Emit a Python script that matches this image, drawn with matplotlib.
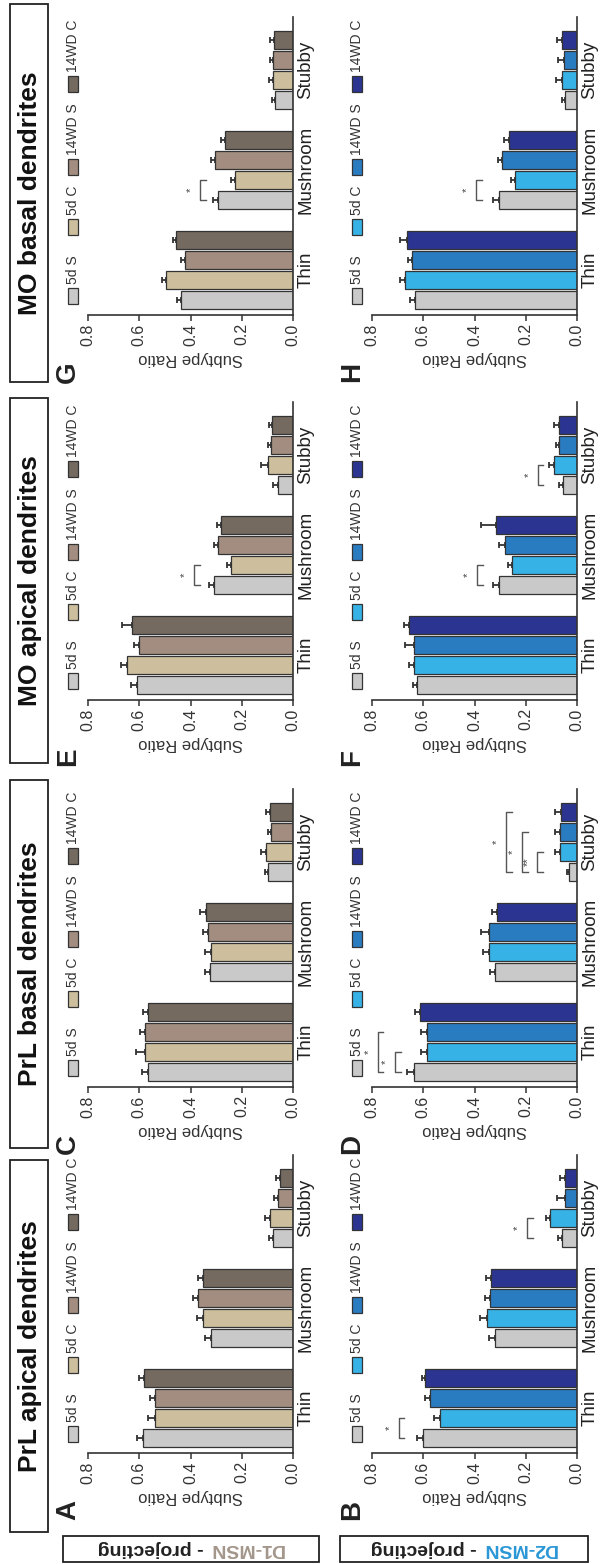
import numpy as np
import matplotlib
matplotlib.use("Agg")
import matplotlib.pyplot as plt
from matplotlib.patches import Rectangle

W, H = 600, 1564
plt.rcParams['font.family'] = ['Liberation Sans', 'DejaVu Sans']

categories = ['Thin', 'Mushroom', 'Stubby']
groups = ['5d S', '5d C', '14WD S', '14WD C']
d1_colors = ['#c9c9c9', '#cdbf9e', '#a38d80', '#746a5f']
d2_colors = ['#c9c9c9', '#36b2e6', '#2a7cc1', '#2b3591']

# values: one row per group (5d S, 5d C, 14WD S, 14WD C), columns Thin/Mushroom/Stubby
a_mean = [[0.585, 0.32, 0.078], [0.54, 0.35, 0.09], [0.54, 0.37, 0.06], [0.58, 0.35, 0.052]]
a_err = [[0.025, 0.022, 0.015], [0.025, 0.025, 0.02], [0.02, 0.02, 0.013], [0.02, 0.02, 0.013]]
b_mean = [[0.6, 0.32, 0.06], [0.535, 0.35, 0.104], [0.572, 0.338, 0.046], [0.592, 0.334, 0.046]]
b_err = [[0.025, 0.022, 0.013], [0.023, 0.029, 0.016], [0.022, 0.02, 0.032], [0.013, 0.023, 0.022]]
c_mean = [[0.566, 0.325, 0.098], [0.579, 0.319, 0.104], [0.579, 0.332, 0.085], [0.566, 0.338, 0.091]]
c_err = [[0.025, 0.02, 0.013], [0.032, 0.025, 0.02], [0.02, 0.02, 0.013], [0.02, 0.025, 0.013]]
d_mean = [[0.637, 0.319, 0.03], [0.585, 0.345, 0.065], [0.585, 0.345, 0.065], [0.611, 0.312, 0.062]]
d_err = [[0.025, 0.022, 0.01], [0.025, 0.02, 0.02], [0.025, 0.029, 0.02], [0.02, 0.02, 0.022]]
e_mean = [[0.608, 0.307, 0.059], [0.647, 0.242, 0.098], [0.601, 0.294, 0.085], [0.627, 0.281, 0.081]]
e_err = [[0.025, 0.02, 0.02], [0.023, 0.017, 0.026], [0.02, 0.015, 0.013], [0.04, 0.015, 0.013]]
f_mean = [[0.624, 0.304, 0.056], [0.637, 0.252, 0.089], [0.637, 0.282, 0.069], [0.657, 0.317, 0.069]]
f_err = [[0.016, 0.022, 0.013], [0.02, 0.017, 0.02], [0.036, 0.022, 0.013], [0.02, 0.058, 0.02]]
g_mean = [[0.436, 0.293, 0.07], [0.494, 0.228, 0.08], [0.423, 0.306, 0.08], [0.455, 0.267, 0.075]]
g_err = [[0.018, 0.02, 0.012], [0.016, 0.015, 0.013], [0.015, 0.013, 0.01], [0.015, 0.013, 0.013]]
h_mean = [[0.631, 0.306, 0.045], [0.67, 0.241, 0.058], [0.644, 0.293, 0.052], [0.663, 0.267, 0.058]]
h_err = [[0.02, 0.02, 0.015], [0.02, 0.017, 0.025], [0.017, 0.017, 0.022], [0.026, 0.017, 0.022]]

# significance: (category, bar i, bar j, x position, label)
b_sig = [(0, 0, 1, 0.696, '*'), (2, 0, 1, 0.195, '*')]
d_sig = [(0, 0, 1, 0.709, '*'), (0, 0, 2, 0.778, '*'),
         (2, 0, 1, 0.156, '**'), (2, 0, 2, 0.215, '*'), (2, 0, 3, 0.276, '*')]
e_sig = [(1, 0, 1, 0.386, '*')]
f_sig = [(1, 0, 1, 0.389, '*'), (2, 0, 1, 0.154, '*')]
g_sig = [(1, 0, 1, 0.363, '*')]
h_sig = [(1, 0, 1, 0.393, '*')]

titles = ['MO basal dendrites', 'MO apical dendrites', 'PrL basal dendrites', 'PrL apical dendrites']

fig = plt.figure(figsize=(W / 100, H / 100), dpi=100)

col_x = [(88, 293), (372, 577)]
row_bottom = [315, 700, 1087, 1453]
ax_h = 298
title_box = [(4, 382), (398, 763), (780, 1148), (1160, 1532)]

panels = [
    (0, 0, 'G', g_mean, g_err, d1_colors, g_sig),
    (0, 1, 'H', h_mean, h_err, d2_colors, h_sig),
    (1, 0, 'E', e_mean, e_err, d1_colors, e_sig),
    (1, 1, 'F', f_mean, f_err, d2_colors, f_sig),
    (2, 0, 'C', c_mean, c_err, d1_colors, []),
    (2, 1, 'D', d_mean, d_err, d2_colors, d_sig),
    (3, 0, 'A', a_mean, a_err, d1_colors, []),
    (3, 1, 'B', b_mean, b_err, d2_colors, b_sig),
]

def fx(px):
    return px / W

def fy(py):
    return 1 - py / H

pitch = 0.2
bar_h = 0.175
edge = '#333333'

for row, col, letter, means, errs, colors, sigs in panels:
    x0, x1 = col_x[col]
    yb = row_bottom[row]
    ax = fig.add_axes([fx(x0), fy(yb), (x1 - x0) / W, ax_h / H])
    ypos = np.arange(len(categories))
    for i in range(len(groups)):
        ax.barh(ypos + (i - 1.5) * pitch, means[i], height=bar_h, color=colors[i],
                edgecolor=edge, linewidth=0.9,
                xerr=[np.zeros(len(categories)), errs[i]],
                error_kw=dict(ecolor=edge, elinewidth=1.3, capsize=2.5, capthick=1.3))
    ax.set_xlim(0.8, 0)
    ax.set_ylim(-0.45, 2.53)
    ax.set_xticks([0, 0.2, 0.4, 0.6, 0.8])
    ax.set_xticklabels(['0.0', '0.2', '0.4', '0.6', '0.8'], rotation=90, fontsize=11.5, color='#333333')
    ax.yaxis.tick_right()
    ax.set_yticks(ypos)
    ax.set_yticklabels(categories, rotation=90, va='center', fontsize=13.5, color='#222222')
    ax.tick_params(axis='y', length=0, pad=3)
    ax.tick_params(axis='x', length=4, width=1.1, pad=2, color='#333333')
    for s in ['top', 'left']:
        ax.spines[s].set_visible(False)
    for s in ['bottom', 'right']:
        ax.spines[s].set_linewidth(1.2)
        ax.spines[s].set_color('#333333')
    ax.set_xlabel('Subtype Ratio', rotation=180, fontsize=12, color='#333333', labelpad=4)

    for c, i, j, v, lab in sigs:
        ya = c + (i - 1.5) * pitch
        yc = c + (j - 1.5) * pitch
        arm = 0.022
        ax.plot([v - arm, v, v, v - arm], [ya, ya, yc, yc], color='#555555', lw=1.0, clip_on=False)
        ax.text(v + 0.035, (ya + yc) / 2, lab, rotation=90, ha='center', va='center',
                fontsize=8, color='#444444', clip_on=False)

    # panel letter
    fig.text(fx(x0 - 20), fy(yb + 57), letter, rotation=90, ha='center', va='center',
             fontsize=20, fontweight='bold', color='#222222')

    # legend (drawn vertically, reading upwards)
    lx = x0 - 15
    starts = [11, 80, 140, 223]
    for i, g in enumerate(groups):
        p0 = yb - starts[i]
        fig.add_artist(Rectangle((fx(lx - 5), fy(p0)), 10 / W, 16 / H, transform=fig.transFigure,
                                 facecolor=colors[i], edgecolor=edge, linewidth=0.9))
        fig.text(fx(lx), fy(p0 - 20), g, rotation=90, ha='center', va='bottom',
                 fontsize=10, color='#333333')

# title boxes
for t, (ya, yb2) in zip(titles, title_box):
    fig.add_artist(Rectangle((fx(10), fy(yb2)), 38 / W, (yb2 - ya) / H, transform=fig.transFigure,
                             facecolor='none', edgecolor='#222222', linewidth=1.3))
    fig.text(fx(30), fy((ya + yb2) / 2), t, rotation=90, ha='center', va='center',
             fontsize=19, fontweight='bold', color='#111111')

# row label boxes (upside down text)
row_labels = [('D1-MSN', '#a3968a', 63, 319), ('D2-MSN', '#2b97d6', 340, 588)]
renderer = fig.canvas.get_renderer()
for name, colr, bx0, bx1 in row_labels:
    fig.add_artist(Rectangle((fx(bx0), fy(1562)), (bx1 - bx0) / W, 26 / H, transform=fig.transFigure,
                             facecolor='none', edgecolor='#222222', linewidth=1.3))
    t1 = fig.text(0, 0, name, rotation=180, rotation_mode='anchor', ha='left', va='baseline',
                  fontsize=14, fontweight='bold', color=colr)
    t2 = fig.text(0, 0, ' - projecting', rotation=180, rotation_mode='anchor', ha='left',
                  va='baseline', fontsize=14, fontweight='bold', color='#222222')
    w1 = t1.get_window_extent(renderer).width
    w2 = t2.get_window_extent(renderer).width
    start = (bx0 + bx1) / 2 + (w1 + w2) / 2
    t1.set_position((fx(start), fy(1544)))
    t2.set_position((fx(start - w1), fy(1544)))

fig.savefig('out.png', dpi=100, facecolor='white')
